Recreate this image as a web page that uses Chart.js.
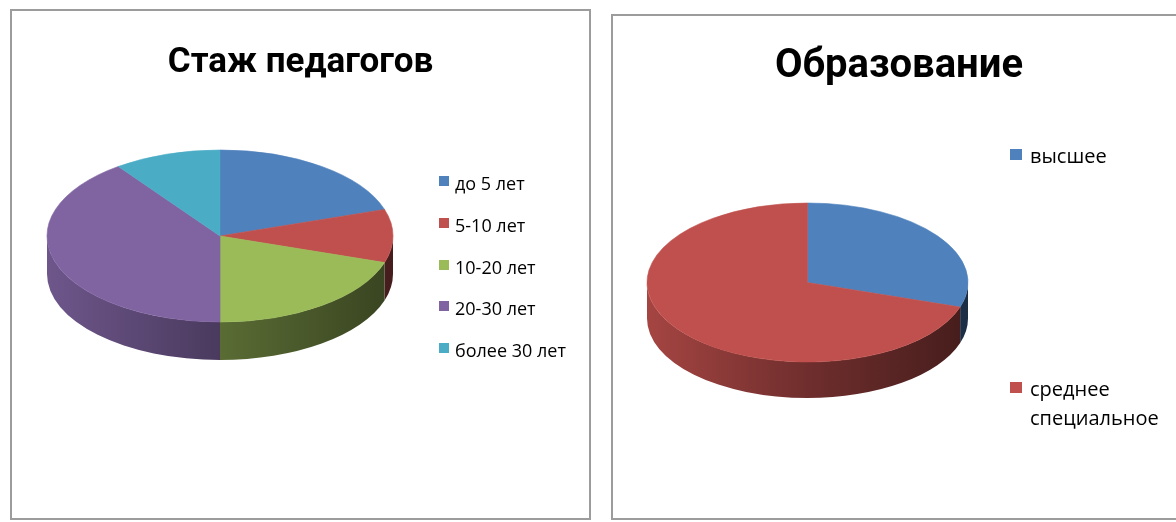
<!DOCTYPE html>
<html><head><meta charset="utf-8">
<script src="https://cdn.jsdelivr.net/npm/chart.js@4.4.1/dist/chart.umd.min.js"></script>
<style>
html,body{margin:0;padding:0;background:#fff;width:1176px;height:522px;overflow:hidden;position:relative;}
.box{position:absolute;border:2px solid #9c9c9c;box-sizing:border-box;background:#fff;}
#b1{left:10px;top:9px;width:581px;height:511px;}
#b2{left:611px;top:14px;width:576px;height:506px;}
canvas{display:block;}
ul.lg{position:absolute;margin:0;padding:0;list-style:none;}
ul.lg li{position:absolute;left:0;display:flex;align-items:flex-start;color:#000;}
ul.lg .sw{display:inline-block;flex:none;}
</style></head><body>
<div class="box" id="b1"><canvas id="c1" width="577" height="507"></canvas></div>
<div class="box" id="b2"><canvas id="c2" width="572" height="502"></canvas></div>
<ul class="lg" id="lg1"></ul>
<ul class="lg" id="lg2"></ul>
<script>
// ---- data ----
const expLabels = ['до 5 лет', '5-10 лет', '10-20 лет', '20-30 лет', 'более 30 лет'];
const expValues = [20, 10, 20, 40, 10];
const eduLabels = ['высшее', 'среднее специальное'];
const eduValues = [30, 70];
const expTitle = 'Стаж педагогов';
const eduTitle = 'Образование';

// ---- styles ----
const palette = ['#4F81BD', '#C0504D', '#9BBB59', '#8064A2', '#4BACC6'];
const TITLE_FONT = 'Roboto';
const LEGEND_FONT = 'Open Sans';

function shade(hex, f) {
  const n = parseInt(hex.slice(1), 16);
  const r = Math.round(((n >> 16) & 255) * f), g = Math.round(((n >> 8) & 255) * f), b = Math.round((n & 255) * f);
  return 'rgb(' + r + ',' + g + ',' + b + ')';
}

// draws the side wall of a tilted pie and maps the library's pie onto an ellipse
const pie3d = {
  id: 'pie3d',
  beforeDatasetsDraw(chart, args, o) {
    const arcs = chart.getDatasetMeta(0).data;
    if (!arcs.length) return;
    const ctx = chart.ctx;
    const R = arcs[0].outerRadius, ox = arcs[0].x, oy = arcs[0].y;
    const bg = chart.data.datasets[0].backgroundColor;
    const grad = c => {
      const g = ctx.createLinearGradient(o.cx - o.rx, 0, o.cx + o.rx, 0);
      g.addColorStop(0, shade(c, 0.86));
      g.addColorStop(0.5, shade(c, 0.58));
      g.addColorStop(1, shade(c, 0.36));
      return g;
    };
    arcs.forEach((arc, i) => {
      const s = arc.startAngle, e = arc.endAngle;
      for (let k = -2; k <= 2; k++) {
        const lo = Math.max(s, 2 * Math.PI * k), hi = Math.min(e, 2 * Math.PI * k + Math.PI);
        if (hi - lo <= 1e-6) continue;
        ctx.beginPath();
        ctx.ellipse(o.cx, o.cy, o.rx, o.ry, 0, lo, hi, false);
        ctx.ellipse(o.cx, o.cy + o.depth, o.rx, o.ry, 0, hi, lo, true);
        ctx.closePath();
        ctx.fillStyle = grad(bg[i]);
        ctx.fill();
      }
    });
    ctx.save();
    ctx.translate(o.cx, o.cy);
    ctx.scale(o.rx / R, o.ry / R);
    ctx.translate(-ox, -oy);
  },
  afterDatasetsDraw(chart) { chart.ctx.restore(); }
};

// HTML legend built from the chart's own labels and colours
const htmlLegend = {
  id: 'htmlLegend',
  afterUpdate(chart, args, o) {
    const ul = document.getElementById(o.id);
    ul.style.left = o.x + 'px';
    ul.style.top = '0px';
    ul.style.width = o.w + 'px';
    ul.innerHTML = '';
    const ds = chart.data.datasets[0];
    chart.data.labels.forEach((lab, i) => {
      const li = document.createElement('li');
      li.style.top = (o.y0 + i * o.step - o.lh / 2) + 'px';
      li.style.width = o.w + 'px';
      li.style.font = o.size + 'px "' + o.font + '"';
      li.style.lineHeight = o.lh + 'px';
      const sw = document.createElement('span');
      sw.className = 'sw';
      sw.style.width = o.bw + 'px';
      sw.style.height = o.bh + 'px';
      sw.style.marginTop = (o.lh / 2 - o.bh / 2 + o.boff) + 'px';
      sw.style.marginRight = o.gap + 'px';
      sw.style.background = ds.backgroundColor[i];
      const tx = document.createElement('span');
      tx.textContent = lab;
      tx.style.maxWidth = o.maxw + 'px';
      li.append(sw, tx);
      ul.append(li);
    });
  }
};

function makePie(id, labels, values, colors, title, titleSize, titlePadTop, geo, leg) {
  return new Chart(document.getElementById(id), {
    type: 'pie',
    data: {
      labels: labels,
      datasets: [{ data: values, backgroundColor: colors, borderColor: colors, borderWidth: 1, clip: false }]
    },
    options: {
      responsive: false,
      animation: false,
      events: [],
      layout: { padding: 0 },
      plugins: {
        legend: { display: false },
        tooltip: { enabled: false },
        title: {
          display: true, text: title, color: '#000',
          font: { family: TITLE_FONT, size: titleSize, weight: 'bold', lineHeight: 1.2 },
          padding: { top: titlePadTop, bottom: 10 }
        },
        pie3d: geo,
        htmlLegend: leg
      }
    },
    plugins: [pie3d, htmlLegend]
  });
}

makePie('c1', expLabels, expValues, palette.slice(0, 5), expTitle, 35, 31,
  { cx: 208, cy: 225, rx: 173, ry: 86, depth: 38 },
  { id: 'lg1', x: 439, w: 150, y0: 183, step: 41.75, lh: 20, size: 18, font: LEGEND_FONT, bw: 10, bh: 10, boff: -2, gap: 6, maxw: 140 });
makePie('c2', eduLabels, eduValues, palette.slice(0, 2), eduTitle, 40, 27,
  { cx: 194.5, cy: 266.5, rx: 160.5, ry: 79.5, depth: 36 },
  { id: 'lg2', x: 1010, w: 170, y0: 155, step: 233, lh: 29, size: 20, font: LEGEND_FONT, bw: 12, bh: 11, boff: -1, gap: 8, maxw: 140 });
</script>
</body></html>
